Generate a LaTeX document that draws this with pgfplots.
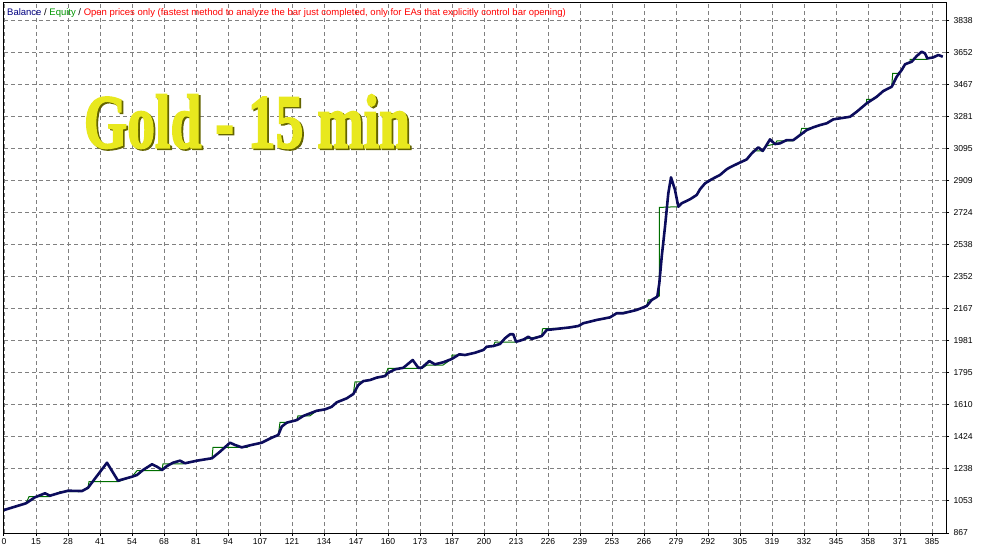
\documentclass[border=0pt]{standalone}
\usepackage{fontspec}
\setmainfont{Liberation Sans}
\newfontfamily\titlefont[FakeBold=2.5]{Liberation Serif}
\usepackage{graphicx}
\usepackage{pgfplots}
\pgfplotsset{compat=1.18}

\definecolor{balnavy}{RGB}{12,12,92}
\definecolor{eqgreen}{RGB}{0,110,0}
\definecolor{gridgray}{RGB}{128,128,128}
\definecolor{txtnavy}{RGB}{0,0,128}
\definecolor{txtgreen}{RGB}{0,150,0}
\definecolor{titleyellow}{RGB}{232,232,30}
\definecolor{titleolive}{RGB}{100,100,0}

% balance line (thick navy): trade number, value
\pgfplotstableread{
t v
0 1000
9.13 1039
12.86 1074
17.01 1097
19.08 1083
22.40 1097
26.55 1112
32.36 1110
34.85 1129
42.73 1274
47.29 1170
53.10 1193
55.18 1203
57.67 1232
61.40 1265
63.48 1251
65.55 1232
67.62 1255
70.11 1274
73.02 1286
75.09 1271
80.07 1286
86.29 1300
89.61 1338
93.76 1390
95.83 1377
98.61 1363
102.06 1375
106.91 1390
111.06 1419
113.80 1435
115.21 1483
117.28 1506
121.43 1521
124.17 1545
129.73 1575
133.17 1583
135.95 1598
138.03 1624
142.17 1647
144.91 1672
146.99 1724
149.06 1747
151.84 1753
154.62 1767
158.06 1776
159.43 1795
162.21 1815
165.66 1824
169.56 1869
171.88 1824
173.29 1824
176.44 1863
178.81 1844
182.25 1856
185.74 1875
188.89 1902
191.26 1898
195.41 1911
198.85 1927
200.26 1946
203.00 1950
205.78 1962
207.85 1995
209.92 2018
211.29 2018
212.41 1975
214.07 1981
215.73 1989
217.52 2004
218.93 1991
223.08 2008
225.15 2043
227.89 2047
234.82 2058
238.26 2066
240.34 2082
245.89 2101
251.41 2116
254.19 2140
256.93 2140
262.49 2159
266.64 2182
268.71 2217
271.03 2236
271.86 2313
272.86 2467
274.23 2641
275.60 2835
276.72 2927
278.38 2854
279.75 2757
281.16 2777
284.60 2800
287.38 2825
288.75 2858
290.82 2892
293.60 2916
297.05 2941
299.83 2974
301.20 2985
303.98 3004
308.12 3031
310.20 3066
312.94 3101
314.76 3080
316.13 3109
317.79 3147
319.86 3120
321.94 3124
324.72 3143
327.46 3143
330.23 3172
333.01 3201
335.75 3217
338.53 3230
341.31 3240
344.05 3263
346.83 3269
350.98 3278
353.76 3307
357.91 3356
362.06 3394
364.79 3427
368.28 3452
370.35 3510
372.43 3549
373.80 3582
376.58 3597
378.65 3630
380.73 3655
382.09 3645
383.05 3616
385.54 3622
387.61 3636
389.44 3626
}\balancetable

% equity line (thin green)
\pgfplotstableread{
t v
0 1000
9.13 1039
10.37 1077
19.08 1077
19.08 1083
22.40 1097
23.23 1106
30.29 1106
32.36 1110
34.85 1129
35.26 1164
47.29 1164
53.10 1193
55.18 1228
64.72 1228
65.55 1232
65.96 1267
74.26 1267
75.09 1271
80.07 1286
86.29 1300
86.71 1363
100.81 1363
102.06 1375
106.91 1390
111.06 1419
113.80 1435
114.50 1508
117.82 1508
121.43 1521
121.97 1546
126.95 1546
129.73 1575
133.17 1583
135.95 1598
138.03 1624
142.17 1647
144.91 1672
145.62 1743
148.94 1743
151.84 1753
154.62 1767
158.06 1776
159.31 1821
173.42 1821
175.49 1840
182.13 1840
185.74 1875
185.86 1898
191.26 1898
195.41 1911
198.85 1927
200.26 1946
203.00 1950
203.70 1972
212.41 1972
214.07 1981
215.73 1989
223.07 2008
223.40 2050
230.67 2053
234.82 2058
238.26 2066
240.34 2082
245.89 2101
251.41 2116
254.19 2143
256.27 2143
262.49 2159
266.64 2182
267.30 2217
268.71 2217
271.03 2236
271.86 2240
271.86 2753
279.75 2757
281.16 2777
284.60 2800
287.38 2825
288.75 2858
290.82 2892
293.60 2916
297.05 2941
299.83 2974
301.20 2985
303.98 3004
308.12 3031
310.74 3080
314.89 3080
316.13 3109
319.86 3120
320.69 3139
327.33 3139
327.46 3143
330.23 3172
330.94 3211
333.55 3211
335.75 3217
338.53 3230
341.31 3240
344.05 3263
346.83 3269
350.98 3278
353.76 3307
357.91 3356
357.91 3379
360.10 3379
362.06 3394
364.79 3427
368.28 3452
368.69 3530
370.89 3530
372.43 3549
373.80 3582
375.87 3597
375.87 3611
382.92 3611
383.05 3616
385.54 3622
387.61 3636
389.44 3626
}\equitytable

\begin{document}
\begin{tikzpicture}[x=1pt,y=1pt]
\useasboundingbox (0,0) rectangle (989,550);
\begin{axis}[
  at={(4pt,17pt)}, anchor=south west,
  scale only axis, width=942pt, height=530pt,
  xmin=0, xmax=390.8, ymin=867, ymax=3937,
  axis line style={black, line width=1pt},
  grid=major,
  major grid style={gridgray, dash pattern=on 4pt off 3pt, line width=0.9pt},
  xtick={0,13.276,26.552,39.828,53.104,66.38,79.656,92.932,106.208,119.484,132.76,146.036,159.312,172.588,185.864,199.14,212.416,225.692,238.968,252.244,265.52,278.796,292.072,305.348,318.624,331.9,345.176,358.452,371.728,385.004},
  xticklabels={0,15,28,41,54,68,81,94,107,121,134,147,160,173,187,200,213,226,239,253,266,279,292,305,319,332,345,358,371,385},
  ytick={867,1052.69,1238.38,1424.06,1609.75,1795.44,1981.13,2166.81,2352.5,2538.19,2723.88,2909.56,3095.25,3280.94,3466.63,3652.31,3838},
  yticklabels={867,1053,1238,1424,1610,1795,1981,2167,2352,2538,2724,2909,3095,3281,3467,3652,3838},
  xtick pos=bottom, ytick pos=right, yticklabel pos=right,
  tick align=outside, major tick length=3pt,
  tick style={black, line width=1pt},
  tick label style={font=\fontsize{8.6}{10}\selectfont, black},
  /pgf/number format/assume math mode=true,
  xticklabel style={yshift=1pt},
  yticklabel style={xshift=1pt},
]
\addplot[eqgreen, line width=1pt] table[x=t, y=v] {\equitytable};
\addplot[balnavy, line width=2.6pt, line join=round] table[x=t, y=v] {\balancetable};
\end{axis}
\node[anchor=west, inner sep=0pt, font=\fontsize{9.5}{11}\selectfont] at (7,537)
  {\textcolor{txtnavy}{Balance} / \textcolor{txtgreen}{Equity} / \textcolor{red}{Open prices only (fastest method to analyze the bar just completed, only for EAs that explicitly control bar opening)}};
\node[inner sep=0pt, text=titleolive] at (248.8,427) {\resizebox{326pt}{53pt}{\titlefont\bfseries Gold - 15 min}};
\node[inner sep=0pt, text=titleyellow] at (247,428.5) {\resizebox{326pt}{53pt}{\titlefont\bfseries Gold - 15 min}};
\end{tikzpicture}
\end{document}
